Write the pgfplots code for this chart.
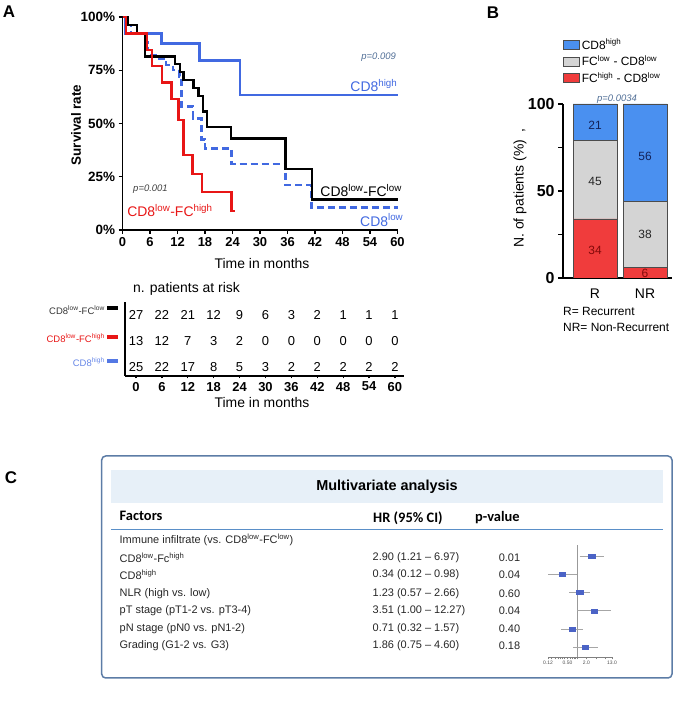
\documentclass[border=0pt]{standalone}
\usepackage{pgfplots}
\pgfplotsset{compat=1.18}
\usepackage{fontspec}
\setmainfont{Liberation Sans}
\newfontfamily\calib{Carlito}
\definecolor{kmblue}{RGB}{65,105,225}
\definecolor{kmred}{RGB}{232,22,22}
\definecolor{barblue}{RGB}{74,144,240}
\definecolor{bargrey}{RGB}{212,212,212}
\definecolor{barred}{RGB}{240,60,60}
\definecolor{pblue}{RGB}{80,110,150}
\definecolor{boxblue}{RGB}{92,124,166}
\definecolor{bandblue}{RGB}{231,240,248}
\definecolor{lineblue}{RGB}{90,143,200}
\definecolor{sqblue}{RGB}{75,99,198}
\definecolor{navytxt}{RGB}{20,35,90}
\definecolor{redtxt}{RGB}{130,10,10}
\newcommand\fsz[1]{\fontsize{#1}{#1}\selectfont}
\pgfplotsset{/pgf/number format/assume math mode=true}
\begin{document}
\begin{tikzpicture}[x=1bp,y=1bp]
\path[use as bounding box] (0,0) rectangle (688,704);

% ---------------- Panel A: KM ----------------
\begin{axis}[at={(122.5bp,474bp)}, anchor=south west, scale only axis,
  width=275bp, height=213bp, xmin=0, xmax=60, ymin=0, ymax=100, clip=false,
  axis x line*=bottom, axis y line*=left, axis line style={line width=1.8bp,-},
  xtick={0,6,...,60}, ytick={0,25,50,75,100},
  yticklabels={0\%,25\%,50\%,75\%,100\%},
  tick align=outside, major tick length=4bp, tick style={line width=1.4bp, black},
  xticklabel style={font=\fsz{13}\bfseries},
  yticklabel style={font=\fsz{13.5}\bfseries}]
\addplot[const plot, kmblue, line width=2.4bp] coordinates {
(0,100) (0.6,92.3) (8.5,87.5) (16.8,79.5) (25.7,63.5) (60,63.5)};
\addplot[const plot, kmblue, line width=2.4bp, dash pattern=on 7bp off 4bp] coordinates {
(0,100) (0.9,96.2) (1.8,92.5) (4.9,88.0) (5.5,84.5) (6.3,82.0) (7.2,80.5) (9.5,77.5)
(11.0,75.0) (12.4,72.0) (12.9,58.0) (15.4,52.4) (17.2,42.5) (18.0,38.3) (23.8,31.0)
(35.6,21.0) (41.2,10.5) (60,10.5)};
\addplot[const plot, black, line width=2.4bp] coordinates {
(0,100) (1.2,96.3) (3.2,92.6) (4.9,81.5) (11.5,77.8) (12.5,74.1) (13.3,70.4)
(15.5,66.7) (16.6,63.0) (17.6,55.6) (18.4,48.4) (23.7,43.0) (35.6,28.6) (41.4,14.4) (60,14.4)};
\addplot[const plot, kmred, line width=2.4bp] coordinates {
(0,100) (0.7,92.3) (5.3,84.6) (6.4,76.9) (8.6,69.2) (10.7,61.5) (12.2,51.6)
(13.3,35.2) (15.3,26.3) (17.3,17.7) (23.8,8.8) (24.5,8.8)};
\node[anchor=east, inner sep=0, font=\fsz{9.5}\itshape, text=pblue] at (axis cs:59.7,81) {p=0.009};
\node[anchor=east, inner sep=0, font=\fsz{14}, text=kmblue] at (axis cs:60,68) {CD8\textsuperscript{high}};
\node[anchor=east, inner sep=0, font=\fsz{14}] at (axis cs:61,18.5) {CD8\textsuperscript{low}-FC\textsuperscript{low}};
\node[anchor=east, inner sep=0, font=\fsz{14}, text=kmblue] at (axis cs:61.3,4.7) {CD8\textsuperscript{low}};
\node[anchor=west, inner sep=0, font=\fsz{9.5}\itshape, text=black!75] at (axis cs:2.3,19.2) {p=0.001};
\node[anchor=west, inner sep=0, font=\fsz{14}, text=kmred] at (axis cs:1,9) {CD8\textsuperscript{low}-FC\textsuperscript{high}};
\end{axis}
\node[rotate=90, font=\fsz{13.5}\bfseries] at (76,579) {Survival rate};
\node[font=\fsz{14}] at (262,440) {Time in months};

% ---------------- Panel A: risk table ----------------
\begin{axis}[at={(125bp,328bp)}, anchor=south west, scale only axis,
  width=279bp, height=74bp, xmin=-2.55, xmax=62.1, ymin=0.654, ymax=3.5, clip=false,
  axis x line*=bottom, axis y line*=left, axis line style={line width=1.8bp,-},
  xtick={0,6,...,60}, ytick=\empty, tick align=outside, major tick length=2.5bp,
  tick style={line width=1.2bp, black},
  xticklabel style={font=\fsz{13}\bfseries}]
\addplot[draw=none, forget plot, nodes near coords, point meta=explicit symbolic,
  every node near coord/.append style={anchor=center, font=\fsz{13}, text=black}]
  table[meta=n] {
x y n
0 3 27
6 3 22
12 3 21
18 3 12
24 3 9
30 3 6
36 3 3
42 3 2
48 3 1
54 3 1
60 3 1
0 2 13
6 2 12
12 2 7
18 2 3
24 2 2
30 2 0
36 2 0
42 2 0
48 2 0
54 2 0
60 2 0
0 1 25
6 1 22
12 1 17
18 1 8
24 1 5
30 1 3
36 1 2
42 1 2
48 1 2
54 1 2
60 1 2
};
\end{axis}
\node[anchor=west, inner sep=0, font=\fsz{14}] at (133,415) {n. patients at risk};
\node[font=\fsz{14}] at (262,301) {Time in months};
\node[anchor=east, inner sep=0, font=\fsz{9.5}, text=black!80] at (105,393.5) {CD8\textsuperscript{low}-FC\textsuperscript{low}};
\fill[black] (107,393.5) rectangle (118,397.5);
\node[anchor=east, inner sep=0, font=\fsz{9.5}, text=kmred] at (105,366) {CD8\textsuperscript{low}-FC\textsuperscript{high}};
\fill[kmred] (107,365) rectangle (118,369);
\node[anchor=east, inner sep=0, font=\fsz{9.5}, text=kmblue!80] at (105,341.5) {CD8\textsuperscript{high}};
\fill[kmblue!90] (107,341) rectangle (118,345);

% ---------------- Panel B ----------------
\begin{axis}[at={(563bp,426bp)}, anchor=south west, scale only axis,
  width=109bp, height=174bp, xmin=-0.64, xmax=1.54, ymin=0, ymax=100,
  ybar stacked, bar width=44bp,
  axis x line*=bottom, axis y line*=left, axis line style={line width=1.8bp,-},
  xtick={0,1}, xticklabels={R,NR}, x tick style={draw=none},
  ytick={0,50,100}, minor ytick={25,75}, tick align=outside,
  major tick length=5bp, minor tick length=5bp,
  y tick style={line width=1.4bp, black},
  yticklabel style={font=\fsz{16}\bfseries},
  xticklabel style={font=\fsz{14}, yshift=-2bp},
  legend cell align=left, reverse legend,
  legend image code/.code={\draw[#1, line width=0.6bp] (0bp,-4.5bp) rectangle (16bp,4.5bp);},
  legend style={at={(axis description cs:0.0,1.385)}, anchor=north west, draw=none, fill=none,
    font=\fsz{12}, inner sep=0bp, row sep=1bp}]
\addplot[fill=barred, draw=black!70, line width=0.6bp] coordinates {(0,34) (1,6)};
\addplot[fill=bargrey, draw=black!70, line width=0.6bp] coordinates {(0,45) (1,38)};
\addplot[fill=barblue, draw=black!70, line width=0.6bp] coordinates {(0,21) (1,56)};
\legend{FC\textsuperscript{high} - CD8\textsuperscript{low}, FC\textsuperscript{low} - CD8\textsuperscript{low}, CD8\textsuperscript{high}}
\end{axis}
\begin{axis}[at={(563bp,426bp)}, anchor=south west, scale only axis,
  width=109bp, height=174bp, xmin=-0.64, xmax=1.54, ymin=0, ymax=100, hide axis, clip=false]
\addplot[draw=none, nodes near coords, point meta=explicit symbolic,
  every node near coord/.append style={anchor=center, font=\fsz{12}, text=navytxt}]
  coordinates {(0,88)[21] (1,69.7)[56]};
\addplot[draw=none, nodes near coords, point meta=explicit symbolic,
  every node near coord/.append style={anchor=center, font=\fsz{12}, text=black!85}]
  coordinates {(0,55.4)[45] (1,25.1)[38]};
\addplot[draw=none, nodes near coords, point meta=explicit symbolic,
  every node near coord/.append style={anchor=center, font=\fsz{12}, text=redtxt}]
  coordinates {(0,16.1)[34] (1,2.7)[6]};
\end{axis}
\node[rotate=90, font=\fsz{14}] at (520,516) {N. of patients (\%)\ \ ,};
\node[font=\fsz{9.5}\itshape, text=pblue] at (617,605) {p=0.0034};
\node[anchor=west, inner sep=0, font=\fsz{12}] at (563,393) {R= Recurrent};
\node[anchor=west, inner sep=0, font=\fsz{12}] at (563,377) {NR= Non-Recurrent};

% ---------------- Panel C ----------------
\draw[boxblue, line width=1.5bp, rounded corners=4bp] (101.7,248) rectangle (672,26);
\fill[bandblue] (111,234) rectangle (663,201);
\node[font=\fsz{14.5}\bfseries] at (387,217) {Multivariate analysis};
\node[anchor=west, inner sep=0, font=\calib\fsz{14.5}\bfseries] at (119.5,188) {Factors};
\node[anchor=west, inner sep=0, font=\calib\fsz{14.5}\bfseries] at (373,186) {HR (95\% CI)};
\node[anchor=west, inner sep=0, font=\calib\fsz{14.5}\bfseries] at (475,186) {p-value};
\draw[lineblue, line width=1.5bp] (111,174.7) -- (663,174.7);
\begin{scope}[every node/.style={inner sep=0, font=\fsz{11}, text=black!85}]
\node[anchor=west] at (119.5,164) {Immune infiltrate (vs. CD8\textsuperscript{low}-FC\textsuperscript{low})};
\node[anchor=west] at (119.5,146.7) {CD8\textsuperscript{low}-Fc\textsuperscript{high}};
\node[anchor=west] at (119.5,129) {CD8\textsuperscript{high}};
\node[anchor=west] at (119.5,110.7) {NLR (high vs. low)};
\node[anchor=west] at (119.5,93.3) {pT stage (pT1-2 vs. pT3-4)};
\node[anchor=west] at (119.5,75.7) {pN stage (pN0 vs. pN1-2)};
\node[anchor=west] at (119.5,58.3) {Grading (G1-2 vs. G3)};
\node[anchor=west] at (372.5,146.7) {2.90 (1.21 – 6.97)};
\node[anchor=west] at (372.5,129) {0.34 (0.12 – 0.98)};
\node[anchor=west] at (372.5,110.7) {1.23 (0.57 – 2.66)};
\node[anchor=west] at (372.5,93.3) {3.51 (1.00 – 12.27)};
\node[anchor=west] at (372.5,75.7) {0.71 (0.32 – 1.57)};
\node[anchor=west] at (372.5,58.3) {1.86 (0.75 – 4.60)};
\node at (509.5,146.7) {0.01};
\node at (509.5,129) {0.04};
\node at (509.5,110.7) {0.60};
\node at (509.5,93.3) {0.04};
\node at (509.5,75.7) {0.40};
\node at (509.5,58.3) {0.18};
\end{scope}
\begin{axis}[at={(548bp,47bp)}, anchor=south west, scale only axis,
  width=64bp, height=112bp, xmode=log, xmin=0.12, xmax=13, ymin=0.466, ymax=6.603,
  clip=false, axis x line*=bottom, axis y line=none,
  axis line style={gray, line width=0.5bp, -},
  xtick={0.12,0.5,2,13}, xticklabels={0.12,0.50,2.0,13.0},
  minor xtick={0.15,0.2,0.25,0.3,0.35,0.4,0.6,0.7,0.8,0.9,1,4,8},
  tick align=outside, major tick length=2.5bp, minor tick length=2.5bp,
  tick style={gray, line width=0.4bp},
  xticklabel style={font=\fsz{5}, text=black!70, inner sep=1bp}]
\addplot[gray!80, line width=0.5bp] coordinates {(1,0.466) (1,6.603)};
\addplot[gray!70, line width=0.6bp] coordinates {(1.21,6) (6.97,6)};
\addplot[gray!70, line width=0.6bp] coordinates {(0.12,5) (0.98,5)};
\addplot[gray!70, line width=0.6bp] coordinates {(0.57,4) (2.66,4)};
\addplot[gray!70, line width=0.6bp] coordinates {(1.00,3) (12.27,3)};
\addplot[gray!70, line width=0.6bp] coordinates {(0.32,2) (1.57,2)};
\addplot[gray!70, line width=0.6bp] coordinates {(0.75,1) (4.60,1)};
\addplot[only marks, mark=square*, mark size=2bp, mark options={fill=sqblue, draw=sqblue, xscale=1.6}]
  coordinates {(2.90,6) (0.34,5) (1.23,4) (3.51,3) (0.71,2) (1.86,1)};
\end{axis}

% panel letters
\node[font=\fsz{17}\bfseries] at (9,692) {A};
\node[font=\fsz{17}\bfseries] at (493,691) {B};
\node[font=\fsz{17}\bfseries] at (11,226) {C};
\end{tikzpicture}
\end{document}
